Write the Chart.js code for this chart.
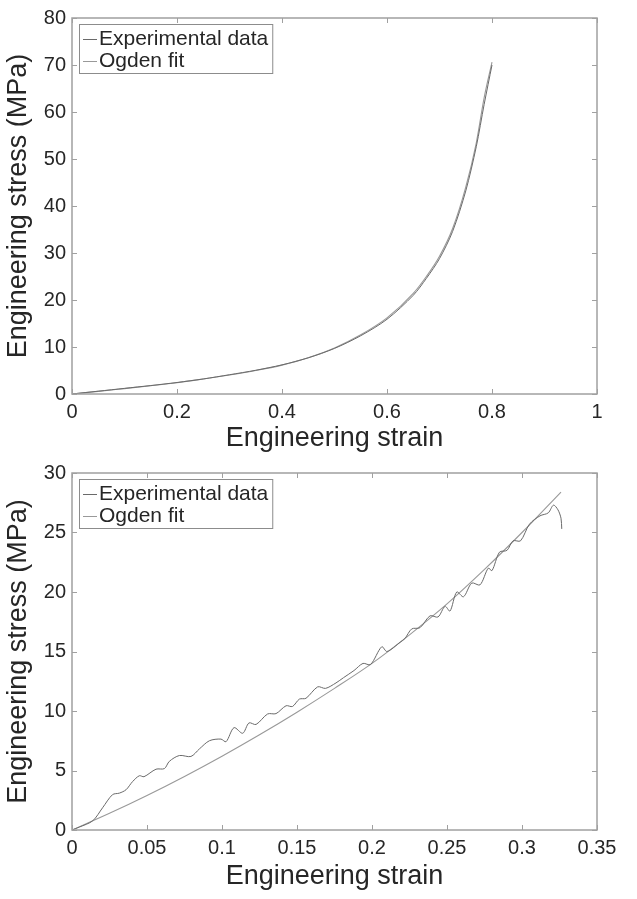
<!DOCTYPE html>
<html>
<head>
<meta charset="utf-8">
<script src="https://cdn.jsdelivr.net/npm/chart.js@4.4.1/dist/chart.umd.min.js"></script>
<style>
  html, body { margin: 0; padding: 0; background: #fff; }
  .box { position: relative; width: 637px; }
  #top-box { height: 455px; }
  #bottom-box { height: 444px; }
</style>
</head>
<body>
<div class="box" id="top-box"><canvas id="top-chart"></canvas></div>
<div class="box" id="bottom-box"><canvas id="bottom-chart"></canvas></div>
<script>
// top panel: full curve up to 0.8 strain
const topExpStrain = [0, 0.05, 0.1, 0.15, 0.2, 0.25, 0.3, 0.35, 0.4, 0.45, 0.5, 0.55, 0.6, 0.65, 0.675, 0.7, 0.725, 0.75, 0.77, 0.785, 0.8];
const topExpStress = [0, 0.6, 1.2, 1.8, 2.45, 3.2, 4.1, 5.05, 6.2, 7.7, 9.7, 12.4, 15.9, 21.0, 24.6, 28.8, 34.6, 43.2, 52.6, 61.6, 70.0];
const topFitStrain = [0, 0.05, 0.1, 0.15, 0.2, 0.25, 0.3, 0.35, 0.4, 0.45, 0.5, 0.55, 0.6, 0.65, 0.675, 0.7, 0.725, 0.75, 0.77, 0.785, 0.8];
const topFitStress = [0, 0.55, 1.15, 1.75, 2.4, 3.2, 4.05, 5.0, 6.15, 7.7, 9.8, 12.6, 16.2, 21.4, 25.0, 29.3, 35.2, 44.0, 53.4, 63.0, 70.6];

// bottom panel: zoom on first 0.33 strain
const botExpStrain = [0, 0.005, 0.0138, 0.0204, 0.027, 0.0316, 0.036, 0.0404, 0.0449, 0.048, 0.056, 0.0616, 0.0649, 0.0716, 0.0793, 0.0849, 0.0916, 0.0993, 0.1027, 0.108, 0.1138, 0.118, 0.1227, 0.1304, 0.136, 0.1427, 0.147, 0.1516, 0.156, 0.1638, 0.169, 0.176, 0.181, 0.188, 0.194, 0.199, 0.2065, 0.21, 0.219, 0.222, 0.2265, 0.232, 0.2387, 0.244, 0.2487, 0.252, 0.2565, 0.261, 0.2665, 0.272, 0.2775, 0.28, 0.285, 0.29, 0.294, 0.299, 0.305, 0.312, 0.3175, 0.321, 0.324, 0.326, 0.3265];
const botExpStress = [0, 0.25, 0.77, 1.87, 2.97, 3.1, 3.38, 4.07, 4.56, 4.48, 5.11, 5.16, 5.77, 6.26, 6.18, 6.81, 7.5, 7.64, 7.42, 8.6, 8.13, 9.0, 8.87, 9.75, 9.78, 10.44, 10.38, 11.0, 11.07, 12.03, 11.9, 12.36, 12.8, 13.4, 14.0, 13.9, 15.4, 15.0, 15.8, 16.1, 16.9, 17.0, 18.0, 17.9, 18.8, 18.4, 20.0, 19.6, 20.75, 20.6, 22.0, 21.8, 23.35, 23.5, 24.3, 24.3, 25.7, 26.4, 26.65, 27.3, 26.9, 26.2, 25.3];
const botFitStrain = [0, 0.025, 0.05, 0.075, 0.1, 0.125, 0.15, 0.175, 0.2, 0.225, 0.25, 0.275, 0.3, 0.326];
const botFitStress = [0, 1.4, 2.9, 4.5, 6.2, 8.0, 9.9, 11.9, 14.0, 16.4, 19.0, 21.9, 25.0, 28.4];

const topXTicks = [0, 0.2, 0.4, 0.6, 0.8, 1];
const topYTicks = [0, 10, 20, 30, 40, 50, 60, 70, 80];
const botXTicks = [0, 0.05, 0.1, 0.15, 0.2, 0.25, 0.3, 0.35];
const botYTicks = [0, 5, 10, 15, 20, 25, 30];

const seriesNames = ["Experimental data", "Ogden fit"];

const TEXT = "#262626";
const FRAME = "#a0a0a0";
const FONT = "'Liberation Sans', Arial, sans-serif";

function toPoints(xs, ys) {
    return xs.map((x, i) => ({ x, y: ys[i] }));
}

// MATLAB-like box with inward ticks on all four sides
const boxPlugin = {
    id: "matlabBox",
    afterDatasetsDraw(chart) {
        const { ctx, chartArea: a, scales } = chart;
        ctx.save();
        ctx.strokeStyle = FRAME;
        ctx.lineWidth = 1.5;
        ctx.strokeRect(a.left, a.top, a.right - a.left, a.bottom - a.top);
        ctx.lineWidth = 1;
        const len = 5;
        scales.x.ticks.forEach(t => {
            const px = Math.round(scales.x.getPixelForValue(t.value)) + 0.5;
            ctx.beginPath();
            ctx.moveTo(px, a.bottom); ctx.lineTo(px, a.bottom - len);
            ctx.moveTo(px, a.top); ctx.lineTo(px, a.top + len);
            ctx.stroke();
        });
        scales.y.ticks.forEach(t => {
            const py = Math.round(scales.y.getPixelForValue(t.value)) + 0.5;
            ctx.beginPath();
            ctx.moveTo(a.left, py); ctx.lineTo(a.left + len, py);
            ctx.moveTo(a.right, py); ctx.lineTo(a.right - len, py);
            ctx.stroke();
        });
        ctx.restore();
    }
};

// legend box in the upper left corner of the axes
const legendPlugin = {
    id: "innerLegend",
    afterDraw(chart) {
        const { ctx, chartArea: a } = chart;
        const ds = chart.data.datasets;
        ctx.save();
        ctx.font = "21px " + FONT;
        const textW = Math.max(...ds.map(d => ctx.measureText(d.label).width));
        const x0 = a.left + 7, y0 = a.top + 6;
        const w = textW + 24, h = 49;
        ctx.fillStyle = "#fff";
        ctx.fillRect(x0, y0, w, h);
        ctx.strokeStyle = "#8c8c8c";
        ctx.lineWidth = 1;
        ctx.strokeRect(x0 + 0.5, y0 + 0.5, w, h);
        ds.forEach((d, i) => {
            const cy = y0 + 15 + i * 22;
            ctx.strokeStyle = d.borderColor;
            ctx.beginPath();
            ctx.moveTo(x0 + 4, cy + 0.5);
            ctx.lineTo(x0 + 18, cy + 0.5);
            ctx.stroke();
            ctx.fillStyle = TEXT;
            ctx.textBaseline = "middle";
            ctx.fillText(d.label, x0 + 20, cy);
        });
        ctx.restore();
    }
};

function makeChart(canvasId, cfg) {
    return new Chart(document.getElementById(canvasId), {
        type: "line",
        data: {
            datasets: [{
                label: seriesNames[0],
                data: toPoints(cfg.expX, cfg.expY),
                borderColor: "#6a6a6a",
                borderWidth: 1,
                pointRadius: 0,
                tension: 0.3
            }, {
                label: seriesNames[1],
                data: toPoints(cfg.fitX, cfg.fitY),
                borderColor: "#999999",
                borderWidth: 1.1,
                pointRadius: 0,
                cubicInterpolationMode: "monotone"
            }]
        },
        options: {
            responsive: true,
            maintainAspectRatio: false,
            animation: false,
            layout: { padding: { top: cfg.padTop, right: 40, left: 0, bottom: 0 } },
            plugins: { legend: { display: false }, tooltip: { enabled: false } },
            scales: {
                x: {
                    type: "linear",
                    min: cfg.xTicks[0],
                    max: cfg.xTicks[cfg.xTicks.length - 1],
                    afterBuildTicks: s => { s.ticks = cfg.xTicks.map(v => ({ value: v })); },
                    afterFit: s => { s.height = cfg.xHeight; },
                    grid: { display: false, drawTicks: false },
                    border: { display: false },
                    ticks: {
                        color: TEXT,
                        font: { family: FONT, size: 20 },
                        padding: 6,
                        maxRotation: 0,
                        autoSkip: false,
                        callback: v => String(v)
                    },
                    title: {
                        display: true,
                        text: "Engineering strain",
                        color: TEXT,
                        font: { family: FONT, size: 27 },
                        padding: { top: 0, bottom: cfg.titlePad }
                    }
                },
                y: {
                    type: "linear",
                    min: cfg.yTicks[0],
                    max: cfg.yTicks[cfg.yTicks.length - 1],
                    afterBuildTicks: s => { s.ticks = cfg.yTicks.map(v => ({ value: v })); },
                    afterFit: s => { s.width = 72; },
                    grid: { display: false, drawTicks: false },
                    border: { display: false },
                    ticks: {
                        color: TEXT,
                        font: { family: FONT, size: 20 },
                        padding: 6,
                        autoSkip: false
                    },
                    title: {
                        display: true,
                        text: "Engineering stress (MPa)",
                        color: TEXT,
                        font: { family: FONT, size: 27 },
                        padding: { top: 2, bottom: 0 }
                    }
                }
            }
        },
        plugins: [boxPlugin, legendPlugin]
    });
}

makeChart("top-chart", {
    expX: topExpStrain, expY: topExpStress,
    fitX: topFitStrain, fitY: topFitStress,
    xTicks: topXTicks, yTicks: topYTicks,
    padTop: 12, xHeight: 61, titlePad: 0
});

makeChart("bottom-chart", {
    expX: botExpStrain, expY: botExpStress,
    fitX: botFitStrain, fitY: botFitStress,
    xTicks: botXTicks, yTicks: botYTicks,
    padTop: 11, xHeight: 69, titlePad: 6
});
</script>
</body>
</html>
